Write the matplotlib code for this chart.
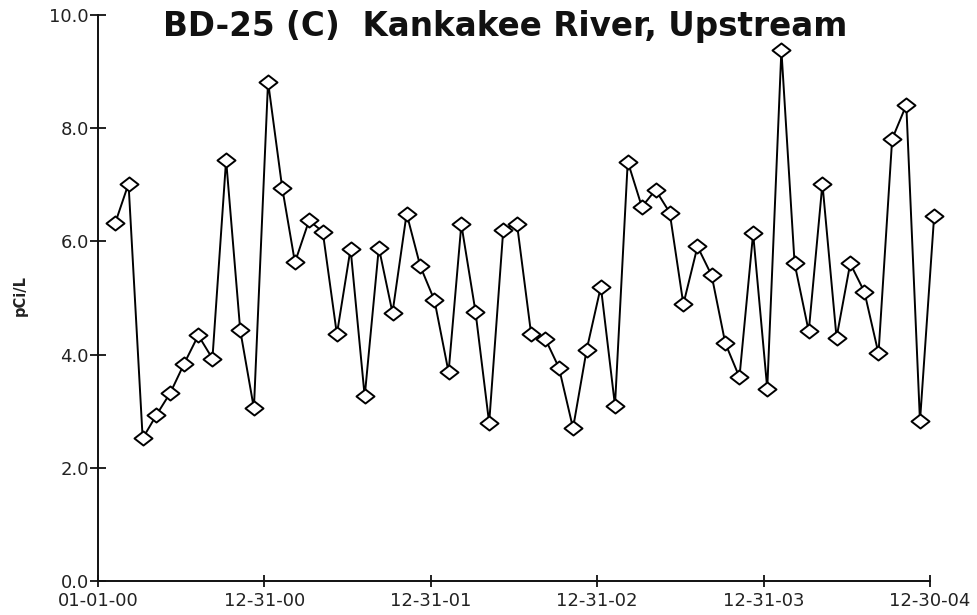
import matplotlib
matplotlib.use("Agg")
import matplotlib.pyplot as plt
from matplotlib.path import Path
import pandas as pd

plt.rcParams['font.family'] = ['DejaVu Sans']

title = "BD-25 (C)  Kankakee River, Upstream"
ylabel = "pCi/L"

# monthly samples, Feb 2000 - Jan 2005
sample_start = "2000-02-08"
values = [6.33, 7.02, 2.52, 2.93, 3.33, 3.84, 4.34, 3.93, 7.44, 4.43,
          3.05, 8.82, 6.95, 5.63, 6.37, 6.17, 4.36, 5.87, 3.26, 5.89,
          4.74, 6.49, 5.56, 4.96, 3.69, 6.30, 4.76, 2.79, 6.21, 6.31,
          4.37, 4.28, 3.77, 2.70, 4.09, 5.20, 3.10, 7.41, 6.61, 6.91,
          6.51, 4.89, 5.91, 5.40, 4.20, 3.60, 6.14, 3.40, 9.38, 5.61,
          4.41, 7.02, 4.30, 5.61, 5.11, 4.02, 7.81, 8.41, 2.82, 6.44]

tick_dates = ["2000-01-01", "2000-12-31", "2001-12-31", "2002-12-31", "2003-12-31", "2004-12-30"]
tick_labels = ["01-01-00", "12-31-00", "12-31-01", "12-31-02", "12-31-03", "12-30-04"]
y_ticks = [0, 2, 4, 6, 8, 10]
y_labels = ["0.0", "2.0", "4.0", "6.0", "8.0", "10.0"]

dates = pd.date_range(sample_start, periods=len(values), freq=pd.DateOffset(months=1))

fig = plt.figure(figsize=(9.77, 6.15), dpi=100)
ax = fig.add_axes([0.1003, 0.0553, 0.8516, 0.9203])

diamond = Path([(-1, 0), (0, 0.78), (1, 0), (0, -0.78), (-1, 0)],
               [Path.MOVETO, Path.LINETO, Path.LINETO, Path.LINETO, Path.CLOSEPOLY])

ax.plot(dates, values, color='black', lw=1.4, marker=diamond, markersize=13,
        markerfacecolor='white', markeredgecolor='black', markeredgewidth=1.4,
        clip_on=False, zorder=3)

ax.set_xlim(pd.Timestamp(tick_dates[0]), pd.Timestamp(tick_dates[-1]))
ax.set_ylim(0, 10)
ax.set_xticks([pd.Timestamp(d) for d in tick_dates])
ax.set_xticklabels(tick_labels)
ax.set_yticks(y_ticks)
ax.set_yticklabels(y_labels)

for s in ['top', 'right']:
    ax.spines[s].set_visible(False)
for s in ['left', 'bottom']:
    ax.spines[s].set_linewidth(1.4)
    ax.spines[s].set_color('#111111')

ax.tick_params(axis='both', direction='inout', width=1.3, color='#111111',
               labelsize=13, labelcolor='#222222')
ax.tick_params(axis='x', length=8, pad=4)
ax.tick_params(axis='y', length=11, pad=1)

fig.text(0.517, 0.957, title, ha='center', va='center', fontsize=23.5,
         fontweight='bold', color='#111111')
fig.text(0.021, 0.52, ylabel, rotation=90, ha='center', va='center',
         fontsize=10.5, fontweight='bold', color='#222222')

fig.savefig("out.png", dpi=100)
